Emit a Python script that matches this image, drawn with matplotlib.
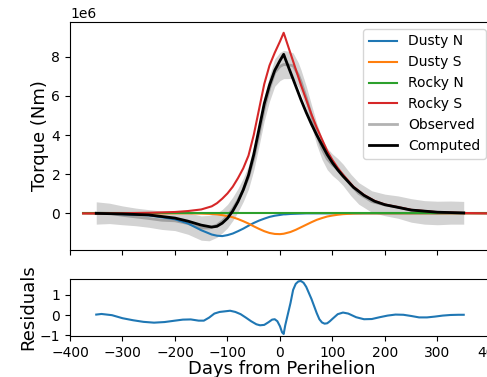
import numpy as np
import matplotlib
matplotlib.use("Agg")
import matplotlib.pyplot as plt

SCALE = 1e6  # values below are in units of 1e6 Nm

# ---- model component curves ----
model_days = [-375, -350, -300, -250, -200, -175, -150, -130, -120, -110, -100, -90, -80,
              -70, -60, -50, -40, -30, -20, -10, 0, 7, 10, 20, 30, 40, 50, 60, 70, 80, 90,
              100, 110, 120, 140, 160, 180, 200, 250, 300, 350, 400, 450, 500]

dusty_n = [0.0, -0.01, -0.04, -0.10, -0.30, -0.52, -0.86, -1.08, -1.14, -1.16, -1.11, -1.03,
           -0.91, -0.78, -0.63, -0.49, -0.37, -0.27, -0.18, -0.12, -0.08, -0.05, -0.05, -0.03,
           -0.02, -0.01, 0.0, 0.0, 0.0, 0.0, 0.0, 0.0, 0.0, 0.0, 0.0, 0.0, 0.0, 0.0, 0.0, 0.0,
           0.0, 0.0, 0.0, 0.0]

dusty_s = [0.0, 0.0, 0.0, 0.0, 0.0, 0.0, -0.01, -0.03, -0.05, -0.09, -0.14, -0.20, -0.29,
           -0.40, -0.52, -0.66, -0.79, -0.91, -1.00, -1.05, -1.06, -1.04, -1.02, -0.95, -0.84,
           -0.71, -0.58, -0.45, -0.33, -0.24, -0.16, -0.11, -0.07, -0.04, -0.01, 0.0, 0.0, 0.0,
           0.0, 0.0, 0.0, 0.0, 0.0, 0.0]

rocky_n = [0.0] * 44

rocky_s = [0.0, 0.0, 0.01, 0.03, 0.07, 0.12, 0.20, 0.36, 0.52, 0.75, 1.02, 1.36, 1.80, 2.30,
           2.95, 4.00, 5.30, 6.60, 7.55, 8.20, 8.78, 9.22, 8.98, 8.17, 7.36, 6.55, 5.80, 5.05,
           4.38, 3.78, 3.18, 2.72, 2.32, 1.97, 1.36, 0.94, 0.64, 0.45, 0.18, 0.06, 0.02, 0.0,
           0.0, 0.0]

# ---- computed total ----
comp_days = [-350, -300, -250, -200, -175, -150, -130, -120, -110, -100, -90, -80, -70, -60,
             -50, -40, -30, -20, -10, 0, 7, 10, 20, 30, 40, 50, 60, 70, 80, 90, 100, 110, 120,
             140, 160, 180, 200, 250, 300, 350]
computed = [0.0, -0.03, -0.08, -0.24, -0.40, -0.60, -0.70, -0.66, -0.50, -0.25, 0.12, 0.60,
            1.20, 1.95, 3.00, 4.30, 5.60, 6.55, 7.30, 7.80, 8.12, 7.90, 7.20, 6.50, 5.80, 5.15,
            4.55, 4.00, 3.50, 3.00, 2.58, 2.22, 1.90, 1.33, 0.92, 0.62, 0.44, 0.17, 0.06, 0.02]

# ---- observed torque and its uncertainty ----
obs_days = [-350, -325, -300, -275, -250, -225, -200, -175, -150, -135, -120, -110, -100,
            -90, -80, -70, -60, -50, -40, -30, -20, -10, 0, 7, 15, 25, 35, 40, 50, 60, 70, 80,
            90, 100, 110, 120, 135, 150, 175, 200, 225, 250, 275, 300, 325, 350]
observed = [0.02, 0.0, -0.10, -0.18, -0.26, -0.35, -0.38, -0.52, -0.75, -0.75, -0.60, -0.40,
            -0.14, 0.23, 0.67, 1.20, 1.84, 2.80, 4.03, 5.34, 6.37, 7.19, 7.50, 7.60, 7.58, 7.54,
            7.07, 6.73, 5.92, 4.99, 4.05, 3.30, 2.78, 2.48, 2.25, 1.97, 1.45, 1.02, 0.60, 0.43,
            0.32, 0.15, 0.05, 0.02, 0.04, 0.03]
obs_err = [0.57, 0.52, 0.48, 0.45, 0.45, 0.47, 0.50, 0.55, 0.62, 0.65, 0.62, 0.60, 0.60, 0.60,
           0.60, 0.60, 0.60, 0.60, 0.60, 0.62, 0.65, 0.70, 0.72, 0.72, 0.70, 0.65, 0.62, 0.60,
           0.58, 0.55, 0.55, 0.55, 0.55, 0.55, 0.55, 0.55, 0.55, 0.55, 0.55, 0.55, 0.57, 0.60,
           0.60, 0.60, 0.59, 0.58]

# ---- residuals ----
res_days = [-350, -340, -320, -300, -280, -260, -240, -220, -200, -185, -170, -155, -145, -135,
            -125, -115, -105, -95, -85, -75, -65, -55, -45, -38, -30, -22, -15, -10, -5, 0, 4,
            7, 10, 15, 20, 25, 30, 35, 40, 45, 50, 55, 60, 65, 70, 75, 80, 85, 90, 95, 100, 110,
            120, 130, 145, 160, 175, 190, 205, 220, 235, 250, 265, 280, 295, 310, 325, 340, 350]
residuals = [0.03, 0.06, 0.0, -0.15, -0.25, -0.33, -0.37, -0.34, -0.27, -0.22, -0.21, -0.27,
             -0.27, -0.12, 0.08, 0.16, 0.19, 0.22, 0.16, 0.05, -0.12, -0.30, -0.45, -0.50,
             -0.48, -0.35, -0.22, -0.20, -0.30, -0.55, -0.85, -0.93, -0.50, 0.05, 0.60, 1.25,
             1.55, 1.67, 1.69, 1.60, 1.40, 1.10, 0.80, 0.45, 0.10, -0.20, -0.36, -0.42, -0.40,
             -0.30, -0.18, 0.05, 0.13, 0.08, -0.10, -0.20, -0.19, -0.10, -0.02, 0.03, 0.02,
             -0.04, -0.11, -0.11, -0.07, -0.02, 0.01, 0.02, 0.02]

W, H = 487, 377
fig = plt.figure(figsize=(W / 100, H / 100), dpi=100)
x_left, x_right = 70, 492.6
ax = fig.add_axes([x_left / W, (H - 250) / H, (x_right - x_left) / W, (250 - 22) / H])
axr = fig.add_axes([x_left / W, (H - 336) / H, (x_right - x_left) / W, (336 - 279) / H],
                   sharex=ax)

md = np.array(model_days)
od = np.array(obs_days)
obs = np.array(observed) * SCALE
err = np.array(obs_err) * SCALE

ax.fill_between(od, obs - err, obs + err, color='lightgray', lw=0, zorder=1)
ax.plot(md, np.array(dusty_n) * SCALE, color='C0', lw=1.5, label='Dusty N', zorder=3)
ax.plot(md, np.array(dusty_s) * SCALE, color='C1', lw=1.5, label='Dusty S', zorder=3)
ax.plot(md, np.array(rocky_n) * SCALE, color='C2', lw=1.5, label='Rocky N', zorder=3)
ax.plot(md, np.array(rocky_s) * SCALE, color='C3', lw=1.5, label='Rocky S', zorder=3)
ax.plot(od, obs, color='gray', alpha=0.6, lw=2, label='Observed', zorder=2)
ax.plot(comp_days, np.array(computed) * SCALE, color='black', lw=2, label='Computed', zorder=4)

ax.set_xlim(-400, 405)
ax.set_ylim(-1.87e6, 9.77e6)
ax.set_ylabel('Torque (Nm)', fontsize=13, labelpad=2)
ax.tick_params(labelbottom=False)
ax.legend(loc='upper right', fontsize=10)

axr.plot(res_days, residuals, color='C0', lw=1.5)
axr.set_ylim(-1.03, 1.79)
axr.set_xticks([-400, -300, -200, -100, 0, 100, 200, 300, 400])
axr.set_ylabel('Residuals', fontsize=13, labelpad=2)
axr.set_xlabel('Days from Perihelion', fontsize=13, labelpad=0)

fig.savefig('out.png', dpi=100)
